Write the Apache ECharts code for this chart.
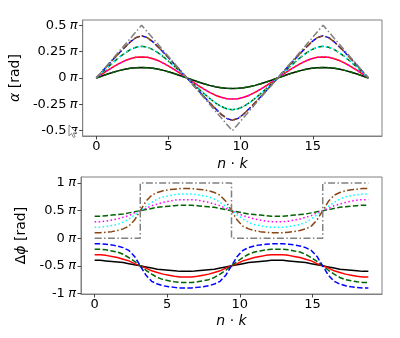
<!DOCTYPE html>
<html><head><meta charset="utf-8">
<script src="https://cdn.jsdelivr.net/npm/echarts@6/dist/echarts.min.js"></script>
<style>html,body{margin:0;padding:0;background:#fff}#c{width:400px;height:338px}</style>
</head><body><div id="c"></div>
<script>
// x positions (n·k)
const nk = [0,0.393,0.785,1.178,1.571,1.963,2.356,2.749,3.142,3.534,3.927,4.320,4.712,5.105,5.498,5.890,6.283,6.676,7.069,7.461,7.854,8.247,8.639,9.032,9.425,9.817,10.210,10.603,10.996,11.388,11.781,12.174,12.566,12.959,13.352,13.744,14.137,14.530,14.923,15.315,15.708,16.101,16.493,16.886,17.279,17.671,18.064,18.457,18.850];

// top panel: alpha (in units of pi)
const alpha01 = [0,0.019,0.038,0.055,0.070,0.083,0.092,0.098,0.100,0.098,0.092,0.083,0.070,0.055,0.038,0.019,0,-0.019,-0.038,-0.055,-0.070,-0.083,-0.092,-0.098,-0.100,-0.098,-0.092,-0.083,-0.070,-0.055,-0.038,-0.019,0,0.019,0.038,0.055,0.070,0.083,0.092,0.098,0.100,0.098,0.092,0.083,0.070,0.055,0.038,0.019,0];
const alpha02 = [0,0.037,0.072,0.106,0.136,0.163,0.183,0.196,0.200,0.196,0.183,0.163,0.136,0.106,0.072,0.037,0,-0.037,-0.072,-0.106,-0.136,-0.163,-0.183,-0.196,-0.200,-0.196,-0.183,-0.163,-0.136,-0.106,-0.072,-0.037,0,0.037,0.072,0.106,0.136,0.163,0.183,0.196,0.200,0.196,0.183,0.163,0.136,0.106,0.072,0.037,0];
const alpha03 = [0,0.050,0.100,0.148,0.194,0.235,0.269,0.292,0.300,0.292,0.269,0.235,0.194,0.148,0.100,0.050,0,-0.050,-0.100,-0.148,-0.194,-0.235,-0.269,-0.292,-0.300,-0.292,-0.269,-0.235,-0.194,-0.148,-0.100,-0.050,0,0.050,0.100,0.148,0.194,0.235,0.269,0.292,0.300,0.292,0.269,0.235,0.194,0.148,0.100,0.050,0];
const alpha04 = [0,0.059,0.119,0.177,0.235,0.290,0.342,0.383,0.400,0.383,0.342,0.290,0.235,0.177,0.119,0.059,0,-0.059,-0.119,-0.177,-0.235,-0.290,-0.342,-0.383,-0.400,-0.383,-0.342,-0.290,-0.235,-0.177,-0.119,-0.059,0,0.059,0.119,0.177,0.235,0.290,0.342,0.383,0.400,0.383,0.342,0.290,0.235,0.177,0.119,0.059,0];
const alpha05 = [0,0.063,0.125,0.188,0.250,0.313,0.375,0.438,0.500,0.438,0.375,0.313,0.250,0.188,0.125,0.063,0,-0.063,-0.125,-0.188,-0.250,-0.313,-0.375,-0.438,-0.500,-0.438,-0.375,-0.313,-0.250,-0.188,-0.125,-0.063,0,0.063,0.125,0.188,0.250,0.313,0.375,0.438,0.500,0.438,0.375,0.313,0.250,0.188,0.125,0.063,0];

// bottom panel: delta phi (in units of pi)
const dphiGreenUp = [0.40,0.40,0.41,0.42,0.43,0.44,0.46,0.48,0.50,0.52,0.54,0.56,0.57,0.58,0.59,0.60,0.60,0.60,0.59,0.58,0.57,0.56,0.54,0.52,0.50,0.48,0.46,0.44,0.43,0.42,0.41,0.40,0.40,0.40,0.41,0.42,0.43,0.44,0.46,0.48,0.50,0.52,0.54,0.56,0.57,0.58,0.59,0.60,0.60];
const dphiMagenta = [0.30,0.30,0.31,0.33,0.35,0.38,0.41,0.46,0.50,0.54,0.59,0.62,0.65,0.67,0.69,0.70,0.70,0.70,0.69,0.67,0.65,0.62,0.59,0.54,0.50,0.46,0.41,0.38,0.35,0.33,0.31,0.30,0.30,0.30,0.31,0.33,0.35,0.38,0.41,0.46,0.50,0.54,0.59,0.62,0.65,0.67,0.69,0.70,0.70];
const dphiCyan = [0.20,0.20,0.21,0.23,0.25,0.29,0.35,0.42,0.50,0.58,0.65,0.71,0.75,0.77,0.79,0.80,0.80,0.80,0.79,0.77,0.75,0.71,0.65,0.58,0.50,0.42,0.35,0.29,0.25,0.23,0.21,0.20,0.20,0.20,0.21,0.23,0.25,0.29,0.35,0.42,0.50,0.58,0.65,0.71,0.75,0.77,0.79,0.80,0.80];
const dphiBrown = [0.10,0.10,0.11,0.12,0.14,0.17,0.22,0.33,0.50,0.67,0.78,0.83,0.86,0.88,0.89,0.90,0.90,0.90,0.89,0.88,0.86,0.83,0.78,0.67,0.50,0.33,0.22,0.17,0.14,0.12,0.11,0.10,0.10,0.10,0.11,0.12,0.14,0.17,0.22,0.33,0.50,0.67,0.78,0.83,0.86,0.88,0.89,0.90,0.90];
const dphiBlack = [-0.40,-0.40,-0.41,-0.42,-0.43,-0.44,-0.46,-0.48,-0.50,-0.52,-0.54,-0.56,-0.57,-0.58,-0.59,-0.60,-0.60,-0.60,-0.59,-0.58,-0.57,-0.56,-0.54,-0.52,-0.50,-0.48,-0.46,-0.44,-0.43,-0.42,-0.41,-0.40,-0.40,-0.40,-0.41,-0.42,-0.43,-0.44,-0.46,-0.48,-0.50,-0.52,-0.54,-0.56,-0.57,-0.58,-0.59,-0.60,-0.60];
const dphiRed = [-0.30,-0.30,-0.31,-0.33,-0.35,-0.38,-0.41,-0.46,-0.50,-0.54,-0.59,-0.62,-0.65,-0.67,-0.69,-0.70,-0.70,-0.70,-0.69,-0.67,-0.65,-0.62,-0.59,-0.54,-0.50,-0.46,-0.41,-0.38,-0.35,-0.33,-0.31,-0.30,-0.30,-0.30,-0.31,-0.33,-0.35,-0.38,-0.41,-0.46,-0.50,-0.54,-0.59,-0.62,-0.65,-0.67,-0.69,-0.70,-0.70];
const dphiGreenLow = [-0.20,-0.20,-0.21,-0.23,-0.25,-0.29,-0.35,-0.42,-0.50,-0.58,-0.65,-0.71,-0.75,-0.77,-0.79,-0.80,-0.80,-0.80,-0.79,-0.77,-0.75,-0.71,-0.65,-0.58,-0.50,-0.42,-0.35,-0.29,-0.25,-0.23,-0.21,-0.20,-0.20,-0.20,-0.21,-0.23,-0.25,-0.29,-0.35,-0.42,-0.50,-0.58,-0.65,-0.71,-0.75,-0.77,-0.79,-0.80,-0.80];
const dphiBlue = [-0.10,-0.10,-0.11,-0.12,-0.14,-0.17,-0.22,-0.33,-0.50,-0.67,-0.78,-0.83,-0.86,-0.88,-0.89,-0.90,-0.90,-0.90,-0.89,-0.88,-0.86,-0.83,-0.78,-0.67,-0.50,-0.33,-0.22,-0.17,-0.14,-0.12,-0.11,-0.10,-0.10,-0.10,-0.11,-0.12,-0.14,-0.17,-0.22,-0.33,-0.50,-0.67,-0.78,-0.83,-0.86,-0.88,-0.89,-0.90,-0.90];
const grayStepX = [0,3.142,3.142,9.425,9.425,15.708,15.708,18.850];
const grayStepY = [0,0,1,1,0,0,1,1];

// ticks
const xTicks = [0,5,10,15];
const topYTicks = [-0.5,-0.25,0,0.25,0.5];
const topYText = ['-0.5','-0.25','0','0.25','0.5'];
const botYTicks = [-1,-0.5,0,0.5,1];
const botYText = ['-1','-0.5','0','0.5','1'];

const FONT = 'DejaVu Sans';
const zip = (xa, ya) => xa.map((x, i) => [x, ya[i]]);
const DASH = [5.5, 2.4], DOT = [1.5, 2.5], DASHDOT = [7, 2.4, 1.5, 2.4];

function line(gi, data, color, type) {
  return {type: 'line', xAxisIndex: gi, yAxisIndex: gi, data: data, showSymbol: false, symbol: 'none',
    smooth: false, silent: true, lineStyle: {color: color, width: 1.5, type: type}};
}
function piLabel(vals, texts) {
  return function (v) {
    let i = vals.findIndex(t => Math.abs(t - v) < 1e-6);
    return '{n|' + (i >= 0 ? texts[i] : v) + '} {p|π}';
  };
}
const tickRich = {n: {fontFamily: FONT, fontSize: 13, color: '#000'}, p: {fontFamily: FONT, fontSize: 13, fontStyle: 'italic', color: '#000'}};
const nameRich = {i: {fontFamily: FONT, fontSize: 14, fontStyle: 'italic', color: '#000'}, r: {fontFamily: FONT, fontSize: 14, color: '#000'}};

function xAxis(gi, gap) {
  return {type: 'value', gridIndex: gi, min: -0.94, max: 19.79,
    name: '{i|n}{r| · }{i|k}', nameLocation: 'middle', nameGap: gap,
    nameTextStyle: {rich: nameRich},
    axisLine: {show: true, onZero: false, lineStyle: {color: '#808080', width: 1}},
    axisTick: {show: true, length: 3.5, customValues: xTicks, lineStyle: {color: '#444', width: 1}},
    axisLabel: {customValues: xTicks, fontFamily: FONT, fontSize: 13, color: '#000', margin: 4},
    splitLine: {show: false}};
}
function yAxis(gi, min, max, vals, texts, name, gap) {
  return {type: 'value', gridIndex: gi, min: min, max: max,
    name: name, nameLocation: 'middle', nameRotate: 90, nameGap: gap,
    nameTextStyle: {rich: nameRich},
    axisLine: {show: true, onZero: false, lineStyle: {color: '#808080', width: 1}},
    axisTick: {show: true, length: 3.5, customValues: vals, lineStyle: {color: '#444', width: 1}},
    axisLabel: {customValues: vals, formatter: piLabel(vals, texts), rich: tickRich, margin: 5},
    splitLine: {show: false}};
}

const chart = echarts.init(document.getElementById('c'), null, {renderer: 'canvas'});
chart.setOption({
  animation: false,
  backgroundColor: '#fff',
  grid: [
    {left: 81, right: 18, top: 20, height: 116, show: true, borderColor: '#808080', borderWidth: 1, backgroundColor: 'transparent'},
    {left: 81, right: 18, top: 177, height: 117, show: true, borderColor: '#808080', borderWidth: 1, backgroundColor: 'transparent'}
  ],
  xAxis: [xAxis(0, 21), xAxis(1, 20)],
  yAxis: [
    yAxis(0, -0.55, 0.55, topYTicks, topYText, '{i|α}{r| [rad]}', 50),
    yAxis(1, -1.01, 1.11, botYTicks, botYText, '{r|Δ}{i|ϕ}{r| [rad]}', 42)
  ],
  series: [
    line(0, zip(nk, alpha01), '#000000', 'solid'),
    line(0, zip(nk, alpha02), '#ff0000', 'solid'),
    line(0, zip(nk, alpha03), '#006400', DASH),
    line(0, zip(nk, alpha04), '#0000ff', DASH),
    line(0, zip(nk, alpha01), '#006400', DASH),
    line(0, zip(nk, alpha02), '#ff00ff', DOT),
    line(0, zip(nk, alpha03), '#00ffff', DOT),
    line(0, zip(nk, alpha04), '#8b4513', DASHDOT),
    line(0, zip(nk, alpha05), '#808080', DASHDOT),

    line(1, zip(nk, dphiBlack), '#000000', 'solid'),
    line(1, zip(nk, dphiRed), '#ff0000', 'solid'),
    line(1, zip(nk, dphiGreenLow), '#006400', DASH),
    line(1, zip(nk, dphiBlue), '#0000ff', DASH),
    line(1, zip(nk, dphiGreenUp), '#006400', DASH),
    line(1, zip(nk, dphiMagenta), '#ff00ff', DOT),
    line(1, zip(nk, dphiCyan), '#00ffff', DOT),
    line(1, zip(nk, dphiBrown), '#8b4513', DASHDOT),
    line(1, zip(grayStepX, grayStepY), '#808080', DASHDOT)
  ],
  graphic: [{
    type: 'polygon', z: 100,
    shape: {points: [[69, 125], [69, 136], [71.5, 133.5], [73.5, 137.5], [75.2, 136.8], [73.3, 133], [77, 133]]},
    style: {fill: '#fff', stroke: '#888', lineWidth: 1}
  }]
});
</script></body></html>
